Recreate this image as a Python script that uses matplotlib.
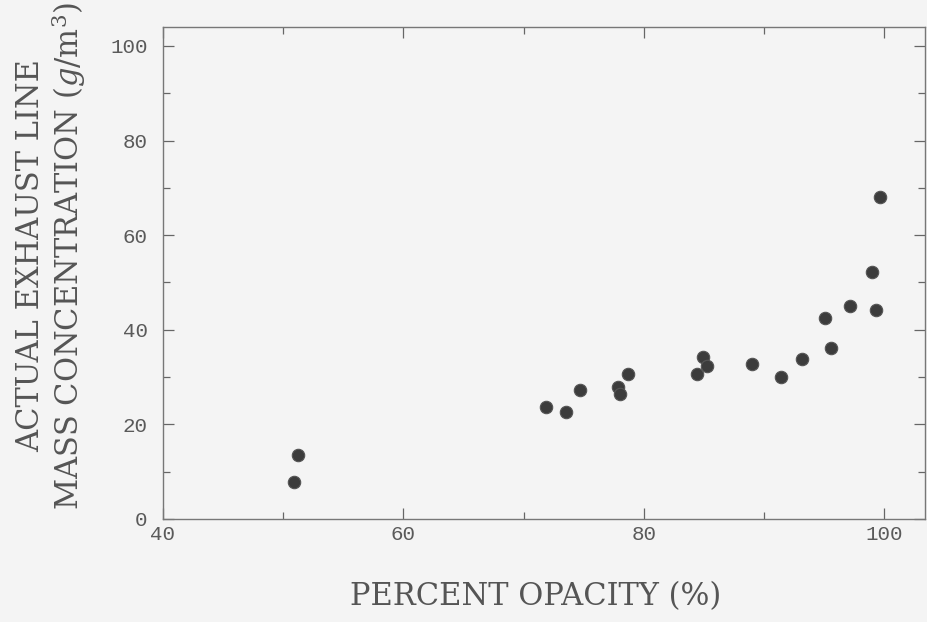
import matplotlib.pyplot as plt
from matplotlib.ticker import MultipleLocator

# percent opacity vs measured exhaust mass concentration
opacity = [51.2, 50.9, 71.9, 73.5, 74.7, 77.9, 78.0, 78.7, 84.4, 84.9,
           85.3, 89.0, 91.4, 93.2, 95.1, 95.6, 97.2, 99.0, 99.3, 99.7]
mass_conc = [13.6, 7.8, 23.7, 22.7, 27.2, 27.9, 26.5, 30.7, 30.6, 34.3,
             32.3, 32.7, 30.0, 33.9, 42.5, 36.1, 45.0, 52.2, 44.1, 68.1]

x_ticks = [40, 60, 80, 100]
y_ticks = [0, 20, 40, 60, 80, 100]

plt.rcParams['mathtext.fontset'] = 'dejavuserif'

fig = plt.figure(figsize=(9.27, 6.22), dpi=100, facecolor='#f4f4f4')
ax = fig.add_axes([0.1758, 0.1656, 0.822, 0.791])
ax.set_facecolor('#f4f4f4')

ax.scatter(opacity, mass_conc, s=80, color='#3c3c3c', edgecolors='#555555',
           linewidths=0.8, zorder=3)

ax.set_xlim(40, 103.4)
ax.set_ylim(0, 104.0)
ax.set_xticks(x_ticks)
ax.set_yticks(y_ticks)
ax.xaxis.set_minor_locator(MultipleLocator(10))
ax.yaxis.set_minor_locator(MultipleLocator(10))

for s in ax.spines.values():
    s.set_color('#777777')
    s.set_linewidth(1.0)

ax.tick_params(which='both', direction='in', top=True, right=True,
               color='#666666', width=0.9, labelcolor='#5a5a5a')
ax.tick_params(which='major', length=8, labelsize=15)
ax.tick_params(which='minor', length=5)
ax.tick_params(axis='x', pad=4)
ax.tick_params(axis='y', pad=11)
for lab in ax.get_xticklabels() + ax.get_yticklabels():
    lab.set_family('Liberation Mono')

fig.text(536 / 927, 1 - 597 / 622, 'PERCENT OPACITY (%)', family='DejaVu Serif',
         fontsize=22, color='#555555', ha='center', va='center')
fig.text(52 / 927, 1 - 256 / 622,
         'ACTUAL EXHAUST LINE\nMASS CONCENTRATION ($g$/m$^3$)',
         family='DejaVu Serif', fontsize=22, color='#555555', rotation=90,
         ha='center', va='center', multialignment='center', linespacing=1.1)

fig.savefig('out.png', dpi=100, facecolor=fig.get_facecolor())
